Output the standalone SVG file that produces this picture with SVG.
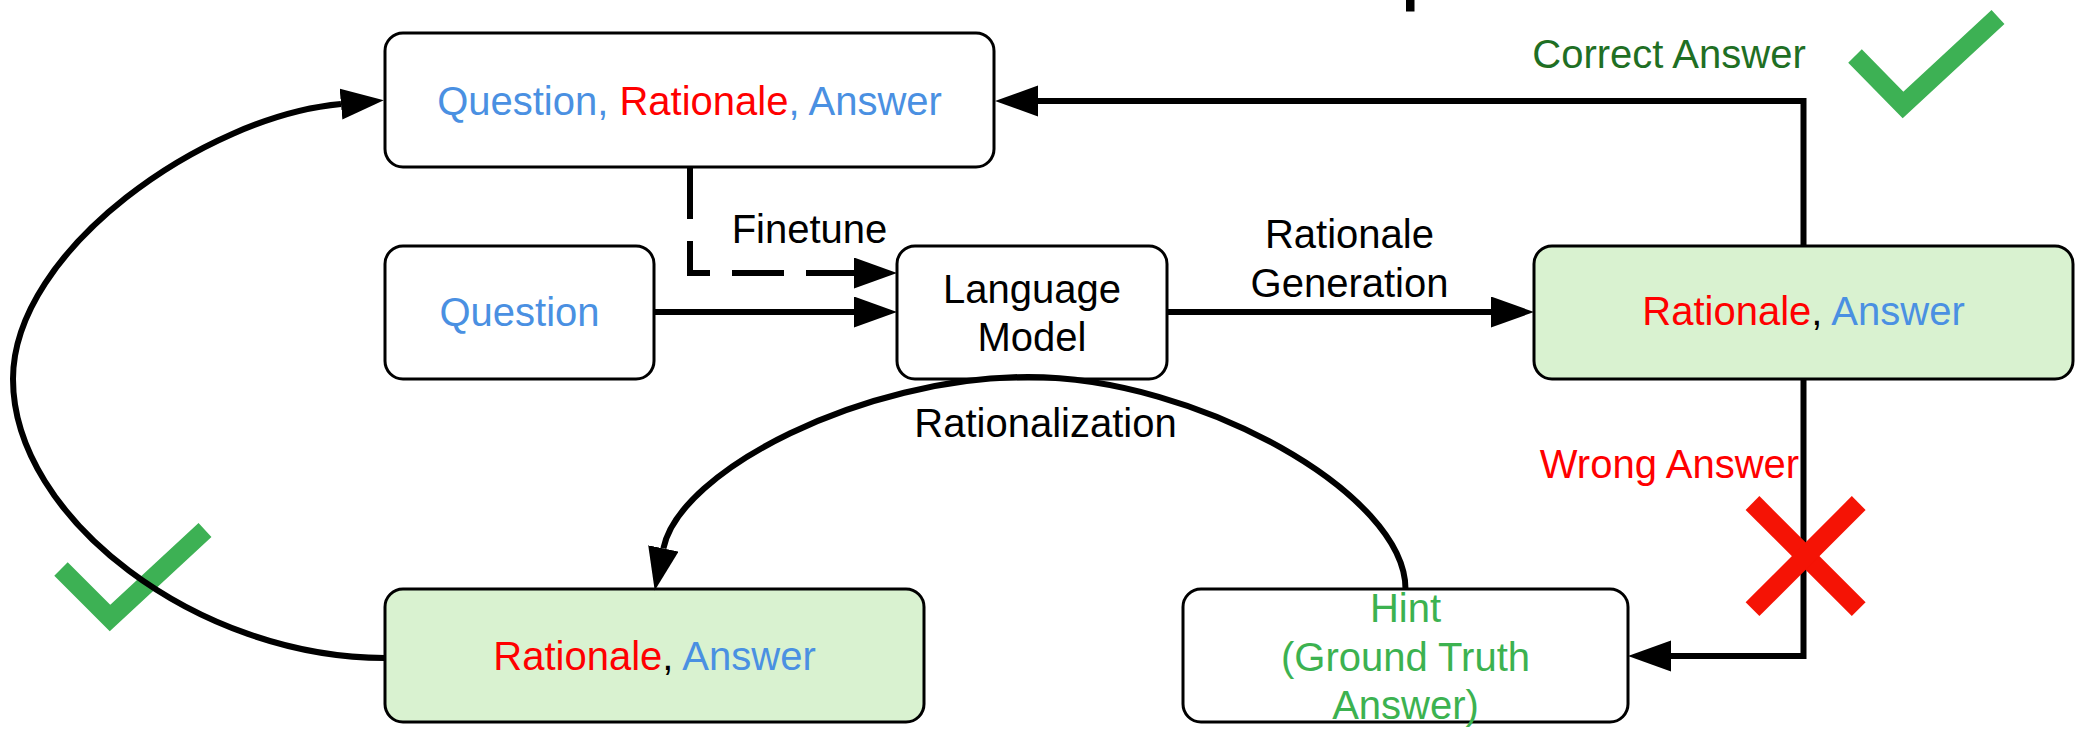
<svg xmlns="http://www.w3.org/2000/svg" width="2092" height="746" viewBox="0 0 2092 746">
  <style>
    .box { fill: #ffffff; stroke: #000000; stroke-width: 3; }
    .green { fill: #d9f2d0; }
    .t { font-family: "Liberation Sans", Arial, Helvetica, sans-serif; font-size: 40px; text-anchor: middle; fill: #000000; }
    .blue { fill: #4a90e2; }
    .red { fill: #ff0000; }
    .hint { fill: #3cb250; }
    .dark { fill: #1f6f24; }
    .conn { fill: none; stroke: #000000; stroke-width: 6; marker-end: url(#arr); }
    .dash { stroke-dasharray: 52 22; }
    .check { fill: none; stroke: #3db154; stroke-width: 19; stroke-linejoin: miter; stroke-linecap: butt; }
    .cross { fill: none; stroke: #f51305; stroke-width: 19.5; stroke-linecap: butt; }
  </style>
  <defs>
    <marker id="arr" markerUnits="userSpaceOnUse" viewBox="0 0 44 32" markerWidth="44" markerHeight="32" refX="0" refY="15.5" orient="auto">
      <path d="M0,0 L43,15.5 L0,31 z" fill="#000000"/>
    </marker>
  </defs>

  <rect x="1406" y="0" width="8.5" height="11.5" fill="#000000"/>

  <g id="check-left">
    <polyline class="check" points="61,569 110,618 205,530"/>
  </g>

  <g id="node-qra">
    <rect class="box" x="385" y="33" width="609" height="134" rx="18" ry="18"/>
    <text class="t" x="689.5" y="115"><tspan class="blue">Question, </tspan><tspan class="red">Rationale</tspan><tspan class="blue">, Answer</tspan></text>
  </g>

  <g id="node-question">
    <rect class="box" x="385" y="246" width="269" height="133" rx="18" ry="18"/>
    <text class="t blue" x="519.5" y="326">Question</text>
  </g>

  <g id="node-lm">
    <rect class="box" x="897" y="246" width="270" height="133" rx="18" ry="18"/>
    <text class="t" x="1032" y="303">Language</text>
    <text class="t" x="1032" y="351">Model</text>
  </g>

  <g id="node-ra-right">
    <rect class="box green" x="1534" y="246" width="539" height="133" rx="18" ry="18"/>
    <text class="t" x="1803.5" y="325"><tspan class="red">Rationale</tspan>, <tspan class="blue">Answer</tspan></text>
  </g>

  <g id="node-ra-left">
    <rect class="box green" x="385" y="589" width="539" height="133" rx="18" ry="18"/>
    <text class="t" x="654.5" y="670"><tspan class="red">Rationale</tspan>, <tspan class="blue">Answer</tspan></text>
  </g>

  <g id="node-hint">
    <rect class="box" x="1183" y="589" width="445" height="133" rx="18" ry="18"/>
    <text class="t hint" x="1405.5" y="622">Hint</text>
    <text class="t hint" x="1405.5" y="670.5">(Ground Truth</text>
    <text class="t hint" x="1405.5" y="719">Answer)</text>
  </g>

  <g id="connectors">
    <path class="conn dash" d="M690,167 V273 H854"/>
    <path class="conn" d="M654,312 H854"/>
    <path class="conn" d="M1167,312 H1491"/>
    <path class="conn" d="M1803.5,246 V101 H1038"/>
    <path class="conn" d="M1803.5,379 V656 H1671"/>
    <path class="conn" d="M385,658 C198,658 13,518 13,379 C13,250 205,116 341,104"/>
    <path class="conn" d="M1405.5,589 C1405.5,494 1198,377 1028,377 C864,377 679.6,469.8 663.4,548.4"/>
  </g>

  <g id="labels">
    <text class="t" x="809.5" y="243">Finetune</text>
    <text class="t" x="1349.5" y="248">Rationale</text>
    <text class="t" x="1349.5" y="297">Generation</text>
    <text class="t dark" x="1669" y="68">Correct Answer</text>
    <text class="t red" x="1669.5" y="478">Wrong Answer</text>
    <text class="t" x="1045.5" y="437">Rationalization</text>
  </g>

  <g id="check-right">
    <polyline class="check" points="1855,56 1903,105 1998,17"/>
  </g>

  <g id="cross">
    <line class="cross" x1="1752.5" y1="503" x2="1858.7" y2="609.2"/>
    <line class="cross" x1="1858.7" y1="503" x2="1752.5" y2="609.2"/>
  </g>
</svg>
